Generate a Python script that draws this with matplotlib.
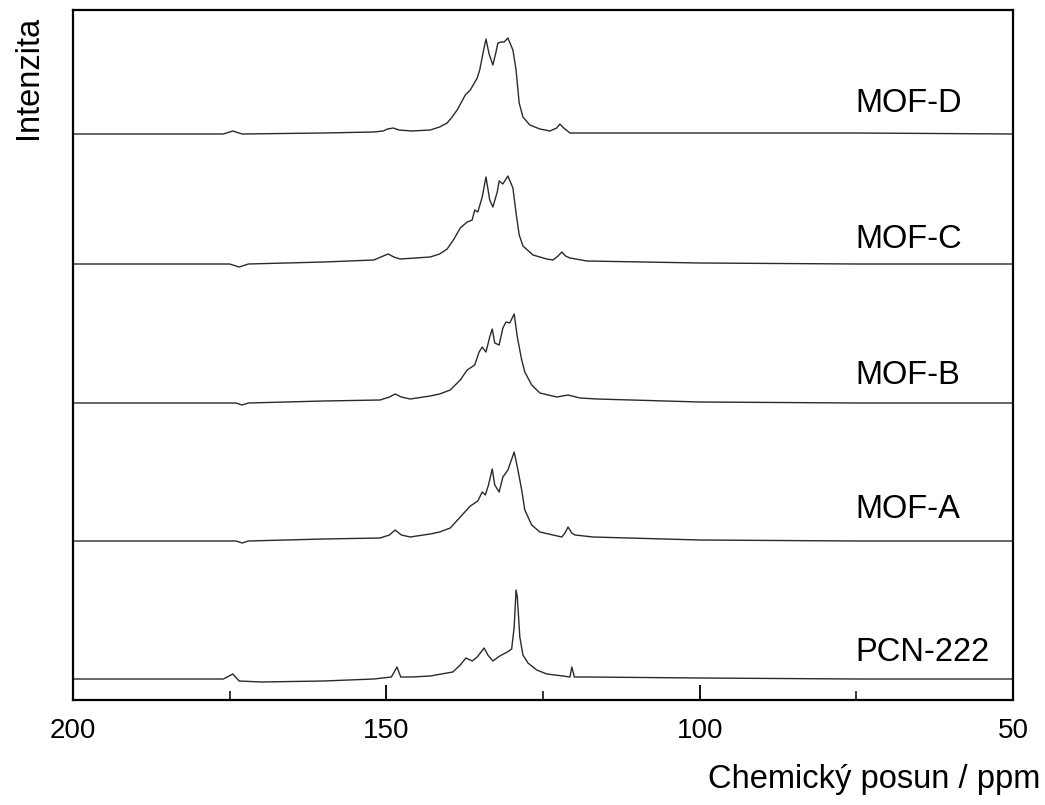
import matplotlib
matplotlib.use("Agg")
import matplotlib.pyplot as plt
import numpy as np

# ---- data (ppm, intensity relative to own baseline) ----
labels = ["MOF-D", "MOF-C", "MOF-B", "MOF-A", "PCN-222"]

ppm_d = [200, 185, 176, 174.5, 173, 160, 152, 150.5, 149.8, 148.9, 148, 146, 143, 141.5, 140.3, 139.5,
         138.7, 137.4, 136.6, 135.5, 135.1, 134.6, 134.1, 133.6, 133.0, 132.5, 132.2, 131.7, 131.2,
         130.6, 130.2, 129.8, 129.3, 128.8, 128.2, 127.1, 125.5, 123.9, 122.8, 122.3, 121.7, 120.7,
         115, 100, 75, 50]
int_d = [0, 0, 0, 3, 0, 1, 2, 3, 5, 6, 4, 3, 4, 7, 11, 17,
         24, 39, 44, 56, 64, 80, 95, 80, 69, 82, 91, 92, 92,
         96, 90, 84, 64, 31, 17, 9, 5, 3, 6, 10, 6, 1,
         1, 1, 1, 0]

ppm_c = [200, 185, 175, 173.5, 172, 160, 152, 150.5, 149.7, 148.8, 147.8, 143, 141.5, 140.3, 139.2,
         138.2, 137.1, 136.3, 135.9, 135.4, 134.7, 134.1, 133.5, 133.0, 132.3, 132.0, 131.4, 130.6,
         129.8, 129.3, 128.8, 128.2, 126.6, 124.4, 123.4, 122.6, 122.0, 121.4, 120.7, 118, 100, 75, 50]
int_c = [0, 0, 0, -3, 0, 2, 4, 8, 10, 7, 5, 7, 10, 15, 25,
         36, 42, 44, 54, 52, 67, 87, 64, 57, 72, 83, 80, 88,
         76, 51, 29, 18, 9, 5, 4, 8, 12, 8, 6, 3, 1, 0, 0]

ppm_b = [200, 185, 174, 173, 172, 160, 151, 149.5, 148.6, 147.6, 146.2, 143, 141.5, 139.8, 138.2,
         137.1, 135.9, 135.2, 134.7, 134.1, 133.5, 133.1, 132.7, 132.0, 131.4, 130.9, 130.3, 129.6,
         129.1, 128.4, 127.9, 126.8, 125.5, 122.8, 121.0, 119.1, 116.4, 100, 75, 50]
int_b = [0, 0, 0, -2, 0, 2, 3, 6, 9, 6, 4, 7, 9, 13, 23,
         33, 38, 51, 56, 51, 66, 74, 60, 58, 75, 81, 80, 89,
         66, 43, 31, 18, 10, 6, 8, 5, 4, 1, 0, 0]

ppm_a = [200, 185, 174, 173, 172, 160, 151, 149.5, 148.6, 147.6, 146.2, 143, 141.5, 139.8, 138.2,
         136.6, 135.4, 134.7, 134.2, 133.7, 133.1, 132.7, 132.0, 131.4, 130.6, 129.6, 129.0, 128.4,
         127.9, 126.8, 125.5, 123.4, 122.0, 121.5, 121.0, 120.4, 119.9, 117, 100, 75, 50]
int_a = [0, 0, 0, -2, 0, 2, 3, 6, 11, 6, 4, 7, 9, 13, 24,
         35, 40, 49, 46, 56, 72, 56, 49, 64, 71, 89, 71, 51,
         31, 16, 9, 6, 4, 8, 14, 8, 6, 4, 1, 0, 0]

ppm_p = [200, 185, 176, 174.5, 173.5, 170, 160, 152, 149.2, 148.3, 147.7, 146, 143, 139.4, 138.2,
         137.3, 136.3, 135.5, 134.4, 133.8, 133.0, 131.9, 130.7, 130.0, 129.6, 129.3, 129.1, 128.7,
         128.2, 127.4, 126.0, 124.4, 121.8, 120.7, 120.4, 120.0, 118, 100, 75, 50]
int_p = [0, 0, 0, 5, -2, -3, -2, 0, 2, 12, 2, 2, 3, 7, 14,
         21, 18, 22, 31, 24, 18, 23, 27, 30, 52, 89, 82, 42,
         24, 16, 9, 5, 3, 2, 12, 2, 2, 1, 0, 0]

offsets = [566, 436, 297, 159, 21]
label_y = [596, 460, 325, 190, 48]

xticks = [200, 150, 100, 50]
xminor = [175, 125, 75]

# ---- plot ----
plt.rcParams['font.family'] = ['Liberation Sans', 'DejaVu Sans']
fig = plt.figure(figsize=(10.45, 8.05), dpi=100)
ax = fig.add_axes([73/1045, 105/805, 940/1045, 690/805])

spectra = [(ppm_d, int_d), (ppm_c, int_c), (ppm_b, int_b), (ppm_a, int_a), (ppm_p, int_p)]
for (x, y), off, lab, ly in zip(spectra, offsets, labels, label_y):
    ax.plot(x, np.array(y) + off, color='#2a2a2a', lw=1.0)
    ax.text(75.2, ly, lab, fontsize=23.5, ha='left', va='center', color='black')

ax.set_xlim(200, 50)
ax.set_ylim(0, 690)
ax.set_xticks(xticks)
ax.set_xticks(xminor, minor=True)
ax.set_yticks([])
ax.tick_params(axis='x', which='major', direction='in', length=11, width=1.3,
               labelsize=20, pad=13)
ax.tick_params(axis='x', which='minor', direction='in', length=6.5, width=1.1)
for s in ax.spines.values():
    s.set_linewidth(1.6)

fig.text(1040/1045, 1 - 779/805, "Chemický posun / ppm", fontsize=23.5,
         ha='right', va='center')
fig.text(28/1045, 1 - 16/805, "Intenzita", fontsize=23.5, rotation=90,
         ha='center', va='top')

fig.savefig("out.png", dpi=100, facecolor='white')
